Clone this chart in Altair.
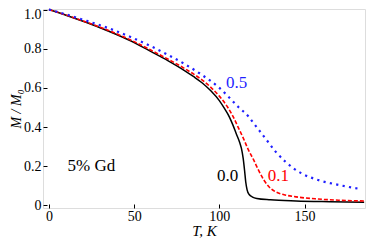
import altair as alt
import pandas as pd

# Curve data
T_black = [0, 10, 20, 30, 40, 50, 60, 70, 80, 85, 90, 95, 100, 103, 106, 108, 110, 112, 113, 114,
           114.8, 115.5, 116.3, 117.5, 119.5, 122, 130, 145, 165, 185]
M_black = [1.0, 0.971, 0.94, 0.907, 0.871, 0.831, 0.785, 0.738, 0.686, 0.657, 0.625, 0.585, 0.535,
           0.495, 0.45, 0.41, 0.365, 0.32, 0.29, 0.24, 0.18, 0.12, 0.08, 0.056, 0.043, 0.036, 0.029,
           0.023, 0.019, 0.016]

T_red = [0, 10, 20, 30, 40, 50, 60, 70, 80, 85, 90, 95, 100, 105, 108, 111, 114, 117, 120, 123,
         126, 129, 133, 138, 145, 158, 170, 185]
M_red = [1.0, 0.972, 0.942, 0.91, 0.875, 0.836, 0.792, 0.746, 0.697, 0.67, 0.64, 0.603, 0.558,
         0.5, 0.455, 0.40, 0.345, 0.285, 0.235, 0.18, 0.132, 0.097, 0.07, 0.055, 0.044, 0.033,
         0.027, 0.023]

T_blue = [0, 10, 20, 30, 40, 50, 60, 70, 80, 90, 100, 105, 111, 117, 121, 127, 133, 139, 148,
          158, 170, 181.5]
M_blue = [1.0, 0.975, 0.948, 0.92, 0.888, 0.852, 0.812, 0.768, 0.72, 0.665, 0.6, 0.558, 0.504,
          0.455, 0.41, 0.343, 0.275, 0.222, 0.165, 0.13, 0.105, 0.086]

label_text = ["0.5", "0.0", "0.1", "5% Gd"]
label_T = [110.1, 104.8, 134.6, 24.9]
label_M = [0.625, 0.151, 0.151, 0.202]
label_color = ["#1f1fff", "#000000", "#ff0000", "#000000"]

x_ticks = [0, 50, 100, 150]
y_ticks = [0, 0.2, 0.4, 0.6, 0.8, 1.0]

FONT = "Liberation Serif"

df_black = pd.DataFrame({"T": T_black, "M": M_black})
df_red = pd.DataFrame({"T": T_red, "M": M_red})
df_blue = pd.DataFrame({"T": T_blue, "M": M_blue})
df_lab = pd.DataFrame({"t": label_text, "T": label_T, "M": label_M, "c": label_color})

xscale = alt.Scale(domain=[-3.5, 185.5], nice=False, zero=False)
yscale = alt.Scale(domain=[-0.0128, 1.0026], nice=False, zero=False)

xaxis = alt.Axis(values=x_ticks, format="d", title="T, K", grid=False, domain=False,
                 tickSize=4, offset=-4, tickColor="black", tickWidth=1, labelOverlap=False,
                 labelFont=FONT, labelFontSize=14, labelColor="black", labelPadding=1,
                 titleFont=FONT, titleFontSize=15, titleFontStyle="italic",
                 titleFontWeight="normal", titleColor="black", titlePadding=0)
yaxis = alt.Axis(values=y_ticks, labelExpr="datum.value == 0 ? '0' : format(datum.value, '.1f')",
                 title="M / M₀", grid=False, domain=False, labelOverlap=False,
                 labelOffset={"condition": {"test": "datum.value == 1", "value": 5}, "value": 0},
                 tickSize=4, offset=-4, tickColor="black", tickWidth=1,
                 labelFont=FONT, labelFontSize=14, labelColor="black", labelPadding=2,
                 titleFont=FONT, titleFontSize=14, titleFontStyle="italic",
                 titleFontWeight="normal", titleColor="black", titlePadding=0)

X = alt.X("T:Q", scale=xscale, axis=xaxis)
Y = alt.Y("M:Q", scale=yscale, axis=yaxis)

black = alt.Chart(df_black).mark_line(color="black", strokeWidth=1.5, interpolate="monotone").encode(
    x=X, y=Y)
red = alt.Chart(df_red).mark_line(color="#ff0000", strokeWidth=1.6, strokeDash=[4, 2],
                                  interpolate="monotone").encode(x=X, y=Y)
blue = alt.Chart(df_blue).mark_line(color="#1f1fff", strokeWidth=2.2, strokeDash=[2.2, 4.3],
                                    interpolate="monotone").encode(x=X, y=Y)
labels = alt.Chart(df_lab).mark_text(font=FONT, fontSize=17, align="center", baseline="middle").encode(
    x=X, y=Y, text="t:N", color=alt.Color("c:N", scale=None))

chart = alt.layer(black, red, blue, labels).properties(
    width=322, height=199,
    autosize=alt.AutoSizeParams(type="none"),
    padding={"left": 35, "top": 1, "right": 1, "bottom": 34},
).configure_view(stroke="black", strokeWidth=1.6).configure_axis(
    labelOverlap=False).configure(background="white")

chart.save("out.html", embed_options={"renderer": "svg", "actions": False})
